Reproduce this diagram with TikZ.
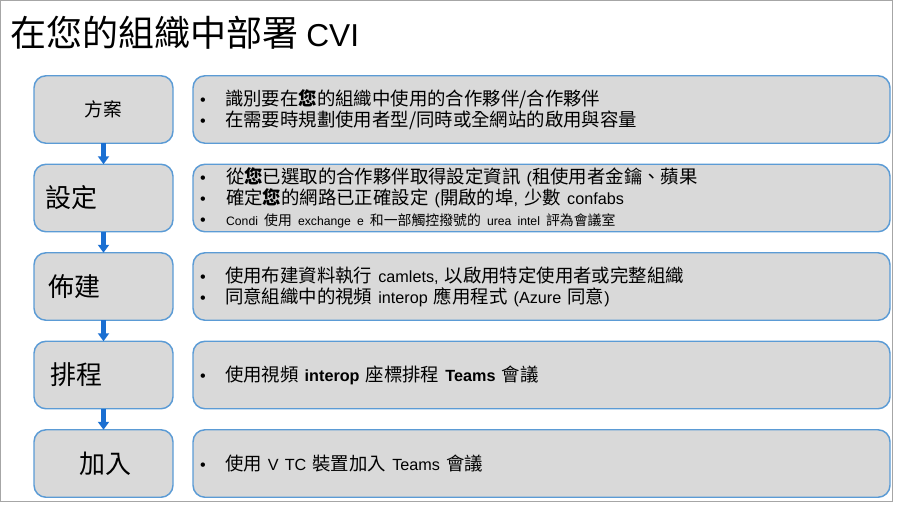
\documentclass[tikz,border=0pt]{standalone}
\usepackage{fontspec}
\setmainfont{Noto Sans CJK TC}
\newfontfamily\latfont[Scale=0.88]{Liberation Sans}
\newcommand{\lat}[1]{{\latfont #1}}
\usetikzlibrary{arrows.meta, positioning}

\newlength{\pix}
\setlength{\pix}{0.75pt}
\newcommand{\bul}[1][25]{\makebox[#1\pix][l]{\lat{\textbullet}}}

\definecolor{boxfill}{HTML}{D9D9D9}
\definecolor{boxline}{HTML}{5B9BD5}
\definecolor{arrowblue}{HTML}{1A6FD2}
\definecolor{framegray}{HTML}{A6A6A6}

\begin{document}
\begin{tikzpicture}[
    x=0.75pt, y=-0.75pt,
    stage/.style = {draw=boxline, fill=boxfill, line width=1.1pt, rounded corners=12\pix,
                    minimum width=139\pix, minimum height=67.5\pix, inner sep=0pt, outer sep=0pt},
    detail/.style = {stage, text width=683\pix, inner xsep=7\pix, align=left,
                     font=\fontsize{13.8}{15.75}\selectfont},
    steptxt/.style = {inner sep=0pt, font=\fontsize{19.5}{22}\selectfont},
    flow/.style = {draw=arrowblue, line width=3.8pt, -{Triangle[width=8.25pt, length=6pt]}},
    node distance=21\pix and 20\pix
  ]

  \useasboundingbox (0,0) rectangle (900,504);
  \draw[framegray, line width=0.75pt] (0.5,0.5) rectangle (892.5,501.5);

  % Title
  \node[anchor=west, inner sep=0pt, font=\fontsize{27}{30}\selectfont] (title) at (10,33)
    {在您的組織中部署 \lat{CVI}};

  % Steps
  \node[stage] (plan) at (103.5,109.5) {};
  \node[stage, below=of plan] (setup) {};
  \node[stage, below=of setup] (provision) {};
  \node[stage, below=of provision] (schedule) {};
  \node[stage, below=of schedule] (join) {};

  \node[inner sep=0pt, font=\fontsize{14}{16}\selectfont] (plantxt) at (plan) {方\hspace{1\pix}案};
  \node[steptxt, right=11\pix of setup.west] (setuptxt) {設定};
  \node[steptxt, right=14\pix of provision.west] (provisiontxt) {佈建};
  \node[steptxt, right=16\pix of schedule.west] (scheduletxt) {排程};
  \node[steptxt, xshift=2\pix] (jointxt) at (join) {加入};

  % Details
  \node[detail, right=of plan] (planinfo) {%
    \bul 識別要在\textbf{您}的組織中使用的合作夥伴/合作夥伴\\
    \bul 在需要時規劃使用者型/同時或全網站的啟用與容量};
  \node[detail, right=of setup] (setupinfo) {%
    \bul[20] 從\textbf{您}已選取的合作夥伴取得設定資訊 \lat{(}租使用者金鑰、蘋果\\
    \bul[20] 確定\textbf{您}的網路已正確設定 \lat{(}開啟的埠\lat{,} 少數 \lat{confabs}\\
    \bul[20] {\fontsize{10.4}{15.75}\selectfont\lat{Condi} 使用 \lat{exchange e} 和一部觸控撥號的 \lat{urea intel} 評為會議室}};
  \node[detail, right=of provision] (provisioninfo) {%
    \bul 使用布建資料執行 \lat{camlets,} 以啟用特定使用者或完整組織\\
    \bul 同意組織中的視頻 \lat{interop} 應用程式 \lat{(Azure} 同意\lat{)}};
  \node[detail, right=of schedule] (scheduleinfo) {%
    \bul 使用視頻 \lat{\bfseries interop} 座標排程 \lat{\bfseries Teams} 會議};
  \node[detail, right=of join] (joininfo) {%
    \bul 使用 \lat{V TC} 裝置加入 \lat{Teams} 會議};

  % Arrows
  \draw[flow] (plan) -- (setup);
  \draw[flow] (setup) -- (provision);
  \draw[flow] (provision) -- (schedule);
  \draw[flow] (schedule) -- (join);

\end{tikzpicture}
\end{document}
